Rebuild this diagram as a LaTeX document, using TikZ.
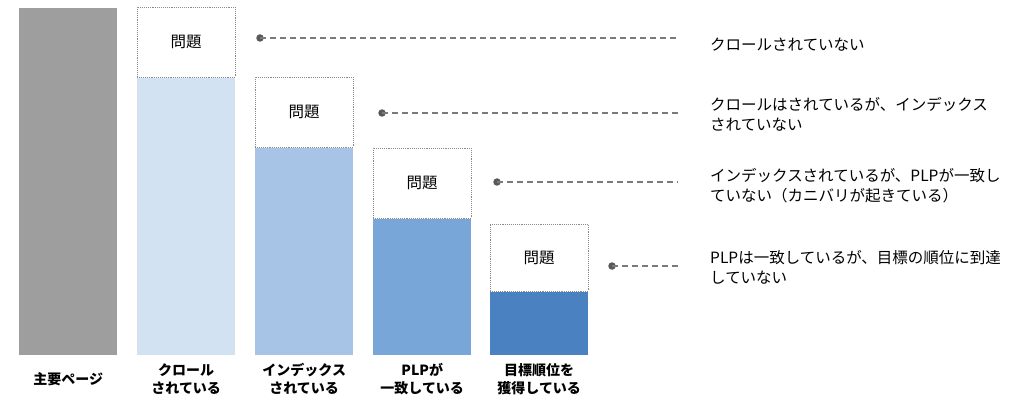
\documentclass[tikz,border=0pt]{standalone}
\usepackage{fontspec}
\setmainfont{Noto Sans CJK JP}
\usepackage{xcolor}
\usepackage{tikz}
\usetikzlibrary{positioning}

\definecolor{pagegray}{HTML}{9E9E9E}
\definecolor{crawlblue}{HTML}{D3E2F2}
\definecolor{indexblue}{HTML}{A7C3E6}
\definecolor{plpblue}{HTML}{78A6D8}
\definecolor{rankblue}{HTML}{4A81C1}
\definecolor{edgegray}{HTML}{8A8A8A}
\definecolor{leadgray}{HTML}{7A7A7A}
\definecolor{dotgray}{HTML}{595959}

\begin{document}
\begin{tikzpicture}[
    x=1pt, y=-1pt,
    bar/.style={
      minimum width=98pt,
      inner sep=0pt,
      anchor=south west
    },
    probbox/.style={
      draw=edgegray,
      densely dotted,
      line width=0.9pt,
      fill=white,
      minimum width=98pt,
      minimum height=70pt,
      inner sep=0pt,
      anchor=south,
      font=\fontsize{15.5pt}{18pt}\selectfont
    },
    lbl/.style={
      align=center,
      inner sep=0pt,
      font=\fontsize{14pt}{18pt}\selectfont\bfseries
    },
    desc/.style={
      align=left,
      anchor=base west,
      inner sep=0pt,
      font=\fontsize{15.5pt}{20pt}\selectfont
    },
    leaddot/.style={
      circle,
      fill=dotgray,
      inner sep=0pt,
      minimum size=7.5pt
    },
    leader/.style={
      draw=leadgray,
      line width=1.2pt,
      dash pattern=on 6pt off 4pt
    }
]
  \useasboundingbox (0,0) rectangle (1024,403);

  % Bars
  \node[bar, fill=pagegray,  minimum height=347pt] (b0) at (19,355)  {};
  \node[bar, fill=crawlblue, minimum height=277pt] (b1) at (137,355) {};
  \node[bar, fill=indexblue, minimum height=207pt] (b2) at (255,355) {};
  \node[bar, fill=plpblue,   minimum height=136pt] (b3) at (373,355) {};
  \node[bar, fill=rankblue,  minimum height=63pt]  (b4) at (490,355) {};

  % Problem boxes on top of the bars
  \node[probbox] (p1) at (b1.north) {問題};
  \node[probbox] (p2) at (b2.north) {問題};
  \node[probbox] (p3) at (b3.north) {問題};
  \node[probbox, minimum height=67pt] (p4) at (b4.north) {問題};

  % Labels under the bars
  \node[lbl] (l0) at ([yshift=-24pt]b0.south) {主要ページ};
  \node[lbl] (l1) at ([yshift=-24pt]b1.south) {クロール\\されている};
  \node[lbl] (l2) at ([yshift=-24pt]b2.south) {インデックス\\されている};
  \node[lbl] (l3) at ([yshift=-24pt]b3.south) {PLPが\\一致している};
  \node[lbl] (l4) at ([yshift=-24pt]b4.south) {目標順位を\\獲得している};

  % Leader lines
  \node[leaddot] (d1) at (260,38)  {};
  \node[leaddot] (d2) at (382,113) {};
  \node[leaddot] (d3) at (497,182) {};
  \node[leaddot] (d4) at (612,266) {};
  \coordinate (e1) at (678,38);
  \coordinate (e2) at (678,113);
  \coordinate (e3) at (678,182);
  \coordinate (e4) at (678,266);
  \draw[leader] (d1.center) -- (e1);
  \draw[leader] (d2.center) -- (e2);
  \draw[leader] (d3.center) -- (e3);
  \draw[leader] (d4.center) -- (e4);

  % Descriptions on the right (base = last line)
  \node[desc] (t1) at (710,50.5)  {クロールされていない};
  \node[desc] (t2) at (710,130.5) {クロールはされているが、インデックス\\されていない};
  \node[desc] (t3) at (710,202)   {インデックスされているが、PLPが一致し\\ていない（カニバリが起きている）};
  \node[desc] (t4) at (710,283)   {PLPは一致しているが、目標の順位に到達\\していない};
\end{tikzpicture}
\end{document}
